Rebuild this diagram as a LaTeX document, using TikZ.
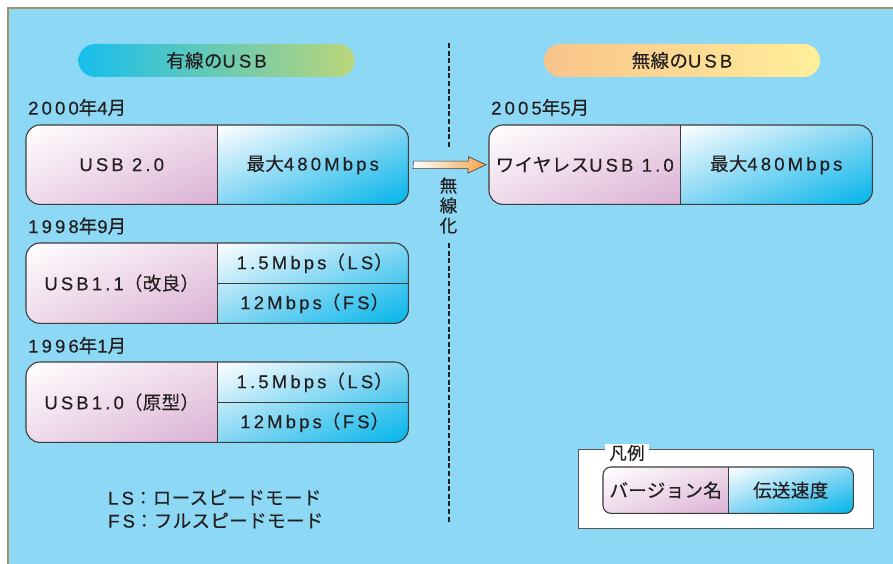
\documentclass[tikz,border=0pt]{standalone}
\usepackage{fontspec}
\setmainfont{Liberation Sans}[LetterSpace=17, FakeBold=0.35]
\newfontfamily\jpf{Noto Sans CJK JP}[LetterSpace=2, FakeBold=0.3]
\newcommand\J[1]{{\jpf #1}}
\newcommand\fsz{\fontsize{18.5}{22}\selectfont}
\usetikzlibrary{calc,shadings}
\pgfdeclarelayer{back}\pgfdeclarelayer{mid}
\pgfsetlayers{back,mid,main}
\definecolor{bgc}{HTML}{8DD8F5}
\definecolor{tanc}{HTML}{A8906C}
\definecolor{ink}{HTML}{231F20}
\definecolor{edgec}{HTML}{3C3C3C}
\definecolor{pk0}{HTML}{FFFFFF}
\definecolor{pk1}{HTML}{EEDAEA}
\definecolor{pk2}{HTML}{DAB0D3}
\definecolor{cy1}{HTML}{86D6F3}
\definecolor{cy2}{HTML}{00B4EA}
\definecolor{pA}{HTML}{17BEED}
\definecolor{pB}{HTML}{BAD679}
\definecolor{pC}{HTML}{F9C48A}
\definecolor{pD}{HTML}{FFEF9B}
\definecolor{orc}{HTML}{F6A24C}
\definecolor{legc}{HTML}{555555}
\tikzset{
  half/.style={inner sep=0pt, text=ink, font=\fsz},
  datelbl/.style={inner sep=0pt, text=ink, font=\fsz, anchor=west},
  edge/.style={draw=edgec, line width=1.1pt},
  lshade/.style={upper left=pk0, upper right=pk1, lower left=pk1, lower right=pk2},
  rshade/.style={upper left=white, upper right=cy1, lower left=cy1, lower right=cy2},
  pill/.style={shade, minimum width=276pt, minimum height=33pt, rounded corners=16.5pt, inner sep=0pt, text=ink, font=\fsz},
  divline/.style={dashed, dash pattern=on 5pt off 2.6pt, line width=1.1pt, draw=ink},
  arrowst/.style={draw=edgec, line width=0.6pt, left color=white, right color=orc},
  note/.style={inner sep=0pt, text=ink, font=\fsz, anchor=west},
}
% #1 left node, #2 right top node, #3 right bottom node, #4 radius
\newcommand\boxdeco[4]{%
  \begin{pgfonlayer}{mid}
    \begin{scope}
      \clip[rounded corners=#4] (#1.north west) rectangle (#3.south east);
      \shade[lshade] (#1.north west) rectangle (#1.south east);
      \shade[rshade] (#2.north west) rectangle (#3.south east);
    \end{scope}
  \end{pgfonlayer}
  \draw[edge, rounded corners=#4] (#1.north west) rectangle (#3.south east);
  \draw[edge] (#1.north east) -- (#1.south east);
}
\newcommand\rate[2]{\hspace{4pt}#1\J{（}\hspace{2.5pt}#2\hspace{1pt}\J{）}}
\begin{document}
\begin{tikzpicture}[x=1pt, y=-1pt]
\useasboundingbox (0,0) rectangle (893,564);
\begin{pgfonlayer}{back}
  \fill[white] (0,0) rectangle (893,564);
  \fill[bgc] (8,8) rectangle (893,564);
  \draw[tanc, line width=1.6pt] (8,564) -- (8,8) -- (893,8);
  \node[draw=legc, line width=1pt, fill=white, minimum width=295pt, minimum height=79pt, inner sep=0pt, anchor=north west] (lg) at (578,449) {};
\end{pgfonlayer}

% headers
\node[pill, left color=pA, right color=pB] (p1) at (216.5,60.5) {\J{有線の}USB};
\node[pill, left color=pC, right color=pD] (p2) at (682,60.5) {\J{無線の}USB};

% dates
\node[datelbl] (d1) at (28,107.5) {2000\J{年}4\J{月}};
\node[datelbl] (d2) at (28,226) {1998\J{年}9\J{月}};
\node[datelbl] (d3) at (28,345.5) {1996\J{年}1\J{月}};
\node[datelbl] (d4) at (491,107.5) {2005\J{年}5\J{月}};

% box 1
\node[half, minimum width=191pt, minimum height=79pt, anchor=north west] (b1l) at (26,125) {USB 2.0};
\node[half, minimum width=191pt, minimum height=79pt, anchor=north west] (b1r) at (217,125) {\J{最大}480Mbps};
\boxdeco{b1l}{b1r}{b1r}{14pt}

% box 2
\node[half, minimum width=191pt, minimum height=80pt, anchor=north west] (b2l) at (26,243) {USB1.1\J{（改良）}};
\node[half, minimum width=191pt, minimum height=40pt, anchor=north west] (b2a) at (217,243) {\rate{1.5Mbps}{LS}};
\node[half, minimum width=191pt, minimum height=40pt, anchor=north west] (b2b) at (217,283) {\rate{12Mbps}{FS}};
\boxdeco{b2l}{b2a}{b2b}{14pt}
\draw[edge] (b2a.south west) -- (b2a.south east);

% box 3
\node[half, minimum width=191pt, minimum height=80pt, anchor=north west] (b3l) at (26,362) {USB1.0\J{（原型）}};
\node[half, minimum width=191pt, minimum height=40pt, anchor=north west] (b3a) at (217,362) {\rate{1.5Mbps}{LS}};
\node[half, minimum width=191pt, minimum height=40pt, anchor=north west] (b3b) at (217,402) {\rate{12Mbps}{FS}};
\boxdeco{b3l}{b3a}{b3b}{14pt}
\draw[edge] (b3a.south west) -- (b3a.south east);

% box 4 (wireless)
\node[half, minimum width=191pt, minimum height=79pt, anchor=north west] (b4l) at (489,125) {\J{ワイヤレス}USB 1.0};
\node[half, minimum width=192pt, minimum height=79pt, anchor=north west] (b4r) at (680,125) {\J{最大}480Mbps};
\boxdeco{b4l}{b4r}{b4r}{14pt}

% divider line
\coordinate (v1) at (449,43);
\coordinate (v2) at (449,147);
\coordinate (v3) at (449,243);
\coordinate (v4) at (449,524);
\draw[divline] (v1) -- (v2);
\draw[divline] (v3) -- (v4);
\node[inner sep=0pt, text=ink, align=center, font=\fontsize{17.5}{20}\selectfont\jpf] (wl) at (448.5,205.5) {無\\線\\化};

% arrow
\coordinate (as) at ($(b1r.east)+(5,0)$);
\coordinate (ae) at ($(b4l.west)+(-3,0)$);
\draw[arrowst] (as) ++(0,-3.5) -- ++(55,0) -- ++(0,-4.5) -- (ae) -- ++(-18,8.5) -- ++(0,-4.5) -- ++(-55,0) -- cycle;

% notes
\node[note] (n1) at (108,497.5) {LS\J{：ロースピードモード}};
\node[note] (n2) at (108,520.5) {FS\J{：フルスピードモード}};

% legend
\node[fill=white, inner xsep=4pt, inner ysep=1pt, text=ink, font=\fontsize{17.5}{20}\selectfont\jpf] (lgt) at (627,453) {凡例};
\node[half, minimum width=125pt, minimum height=46pt, anchor=north west] (lgl) at (603,467) {\J{バージョン名}};
\node[half, minimum width=125pt, minimum height=46pt, anchor=north west] (lgr) at (728,467) {\J{伝送速度}};
\boxdeco{lgl}{lgr}{lgr}{8pt}
\end{tikzpicture}
\end{document}
